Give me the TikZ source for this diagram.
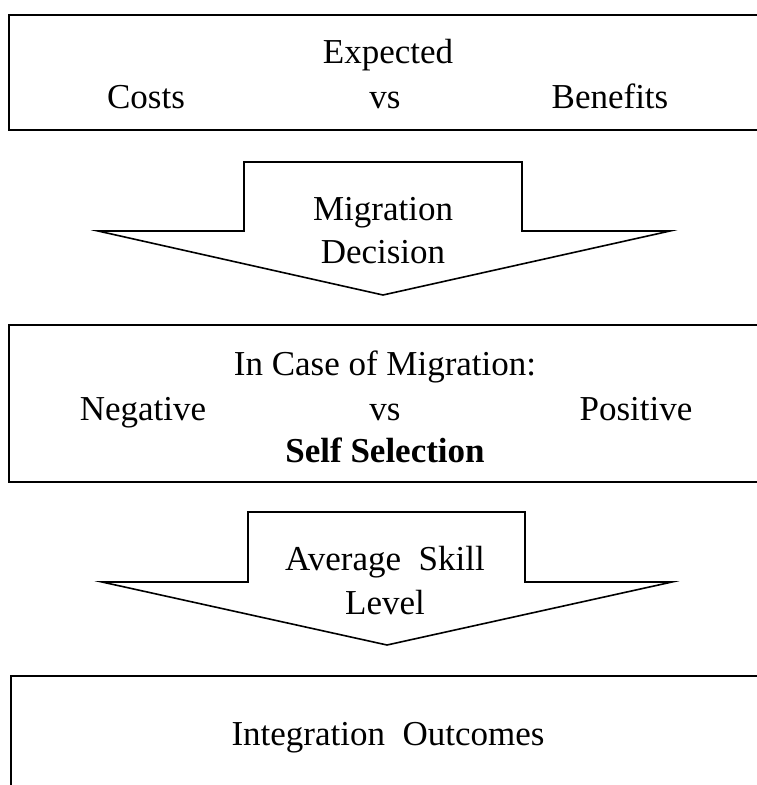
\documentclass[tikz,border=0pt]{standalone}
\usepackage{fontspec}
\setmainfont{Liberation Serif}
\begin{document}
\begin{tikzpicture}[x=1pt,y=-1pt,
  txt/.style={font=\fontsize{35}{40}\selectfont, inner sep=0pt, anchor=base},
  panel/.style={draw=black, line width=2.6pt},
  blockarrow/.style={draw=black, line width=1.6pt, fill=white, line join=miter}]
\useasboundingbox (0,0) rectangle (757,785);
\clip (0,0) rectangle (757,785);

% three framed panels, running off the right edge
\draw[panel] (9,15) rectangle (790,130);
\draw[panel] (9,325) rectangle (790,482);
\draw[panel] (11,676) rectangle (790,820);

% block arrows between the panels
\draw[blockarrow] (244,162) -- (522,162) -- (522,231) -- (670,231) -- (383,295)
  -- (98,231) -- (244,231) -- cycle;
\draw[blockarrow] (248,512) -- (525,512) -- (525,582) -- (672,582) -- (387,645)
  -- (102,582) -- (248,582) -- cycle;

% first panel
\node[txt] (expected) at (388,63) {Expected};
\node[txt] (costs) at (146,108) {Costs};
\node[txt] (vs1) at (385,108) {vs};
\node[txt] (benefits) at (610,108) {Benefits};

% first arrow
\node[txt] (migration) at (383,220) {Migration};
\node[txt] (decision) at (383,263) {Decision};

% second panel
\node[txt] (incase) at (385,375) {In Case of Migration:};
\node[txt] (negative) at (143,420) {Negative};
\node[txt] (vs2) at (385,420) {vs};
\node[txt] (positive) at (636,420) {Positive};
\node[txt,font=\fontsize{35}{40}\selectfont\bfseries] (selfsel) at (385,462) {Self Selection};

% second arrow
\node[txt] (skill) at (385,570) {Average\ \ Skill};
\node[txt] (level) at (385,614) {Level};

% third panel
\node[txt] (outcomes) at (388,745) {Integration\ \ Outcomes};
\end{tikzpicture}
\end{document}
